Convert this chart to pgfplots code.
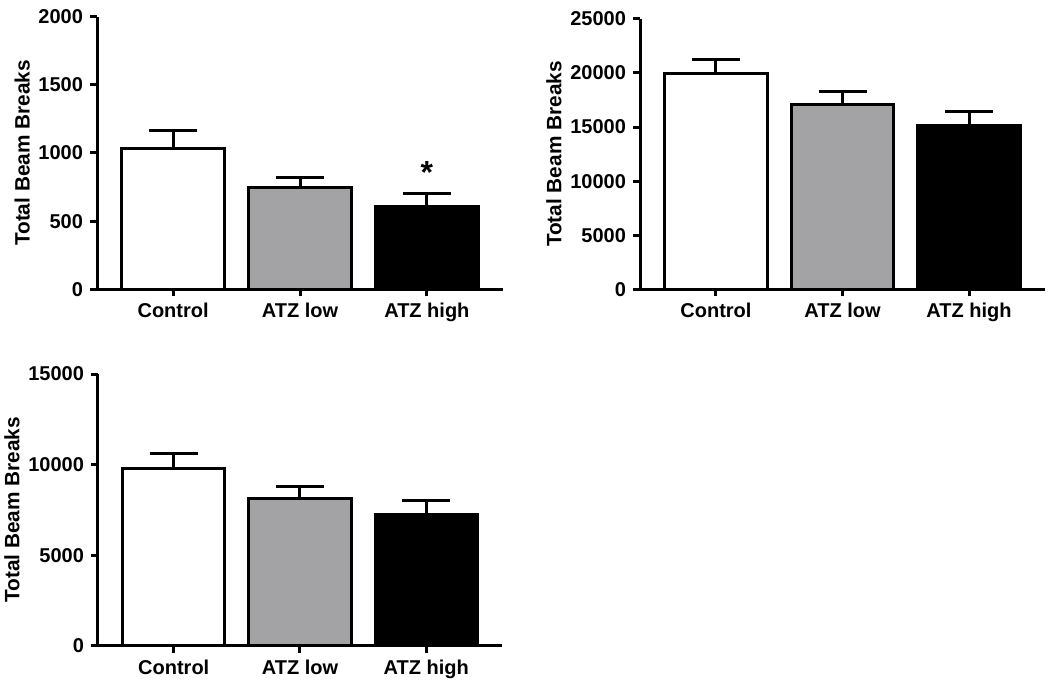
\documentclass[border=0pt]{standalone}
\usepackage{pgfplots}
\pgfplotsset{compat=1.18}
\usepackage{fontspec}
\setmainfont{Liberation Sans}
\definecolor{atzlow}{RGB}{163,163,166}

\pgfplotsset{
  beam/.style={
    scale only axis,
    anchor=south west,
    axis lines*=left,
    axis line style={line width=1.5pt},
    x axis line style={shorten <=-3.5pt},
    every tick/.style={black, line width=1.5pt},
    tick align=outside,
    major tick length=3.5pt,
    xmin=-0.6, xmax=2.6,
    xtick={0,1,2},
    xticklabels={Control,ATZ low,ATZ high},
    ymin=0,
    scaled y ticks=false,
    /pgf/number format/1000 sep={},
    /pgf/number format/assume math mode=true,
    tick label style={font=\bfseries\fontsize{10}{12}\selectfont},
    ylabel={Total Beam Breaks},
    ylabel style={font=\bfseries\fontsize{10.4}{12}\selectfont, yshift=-2.5pt},
    ybar, bar width=0.81, bar shift=0pt,
  },
  bars/.style={draw=black, line width=1.5pt, fill=#1,
    error bars/.cd, y dir=plus, y explicit,
    error bar style={line width=1.5pt, black},
    error mark options={rotate=90, line width=1.5pt, mark size=12pt, black}},
}

\begin{document}
\begin{tikzpicture}
\useasboundingbox (0,0) rectangle (525pt,342.5pt);

% top left
\begin{axis}[beam, at={(48.5pt,197.85pt)}, width=203pt, height=136.3pt,
  ymax=2000, ytick={0,500,1000,1500,2000}]
\addplot[bars=white] coordinates {(0,1035) +- (0,130)};
\addplot[bars=atzlow] coordinates {(1,745) +- (0,72)};
\addplot[bars=black] coordinates {(2,610) +- (0,90)};
\node[font=\bfseries\fontsize{16}{16}\selectfont] at (axis cs:2,860) {*};
\end{axis}

% top right
\begin{axis}[beam, at={(320pt,197.85pt)}, width=202.5pt, height=135.2pt,
  ymax=25000, ytick={0,5000,10000,15000,20000,25000}]
\addplot[bars=white] coordinates {(0,19980) +- (0,1290)};
\addplot[bars=atzlow] coordinates {(1,17040) +- (0,1240)};
\addplot[bars=black] coordinates {(2,15130) +- (0,1300)};
\end{axis}

% bottom left
\begin{axis}[beam, at={(49pt,19.65pt)}, width=202pt, height=135.8pt,
  ymax=15000, ytick={0,5000,10000,15000}]
\addplot[bars=white] coordinates {(0,9790) +- (0,830)};
\addplot[bars=atzlow] coordinates {(1,8140) +- (0,640)};
\addplot[bars=black] coordinates {(2,7270) +- (0,735)};
\end{axis}
\end{tikzpicture}
\end{document}
